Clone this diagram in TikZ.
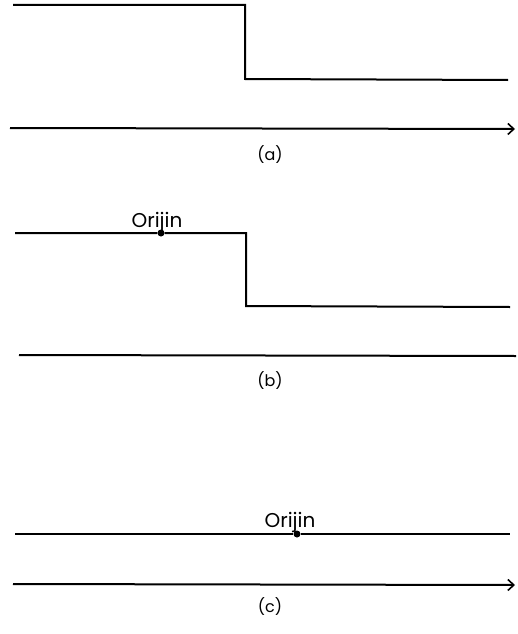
\documentclass[tikz,border=0pt]{standalone}
\usepackage{fontspec}
\setmainfont{Poppins}
\usetikzlibrary{arrows.meta}
\begin{document}
\begin{tikzpicture}[x=1pt,y=-1pt,
  signal/.style={line width=2pt,line join=miter},
  axis/.style={line width=2pt,-{Straight Barb[length=6pt,width=11pt,line width=1.6pt]}},
  plainaxis/.style={line width=2pt},
  origindot/.style={circle,fill=black,inner sep=0pt,minimum size=7pt},
  caption/.style={font=\fontsize{16}{16}\selectfont},
  origlabel/.style={font=\fontsize{20}{20}\selectfont,inner sep=1pt}]
\useasboundingbox (0,0) rectangle (517,634);

% (a) step signal with time axis
\coordinate (a1) at (13,5);
\coordinate (a2) at (245,5);
\coordinate (a3) at (245,79);
\coordinate (a4) at (508,80);
\draw[signal] (a1) -- (a2) -- (a3) -- (a4);
\coordinate (ax0) at (10,128);
\coordinate (ax1) at (515,129);
\draw[axis] (ax0) -- (ax1);
\node[caption] (capa) at (270,155) {(a)};

% (b) step signal with origin marked on the upper level
\coordinate (b1) at (15,233);
\node[origindot] (ob) at (161,233) {};
\coordinate (b2) at (246,233);
\coordinate (b3) at (246,306);
\coordinate (b4) at (510,307);
\draw[signal] (b1) -- (ob) -- (b2) -- (b3) -- (b4);
\node[origlabel,anchor=base] (lb) at (157,227) {Orijin};
\coordinate (bx0) at (19,355);
\coordinate (bx1) at (516,356);
\draw[plainaxis] (bx0) -- (bx1);
\node[caption] (capb) at (270,381) {(b)};

% (c) constant signal with origin marked
\coordinate (c1) at (15,534);
\node[origindot] (oc) at (297,534) {};
\coordinate (c2) at (510,534);
\draw[signal] (c1) -- (oc) -- (c2);
\node[origlabel,anchor=base] (lc) at (290,527) {Orijin};
\coordinate (cx0) at (13,584);
\coordinate (cx1) at (515,585);
\draw[axis] (cx0) -- (cx1);
\node[caption] (capc) at (270,607) {(c)};
\end{tikzpicture}
\end{document}
